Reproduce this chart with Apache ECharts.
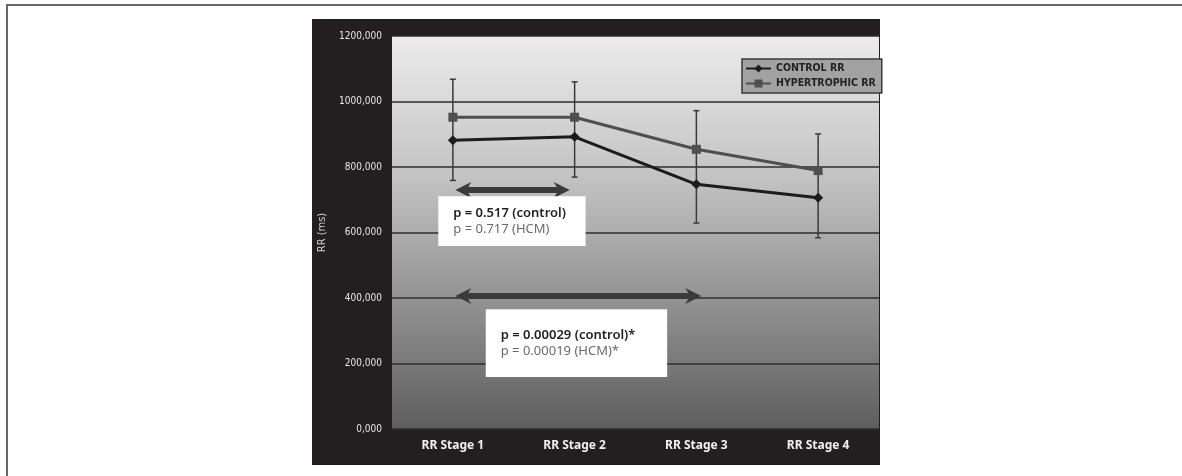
<!DOCTYPE html>
<html>
<head>
<meta charset="utf-8">
<script src="https://cdn.jsdelivr.net/npm/echarts@6/dist/echarts.min.js"></script>
<style>
html,body{margin:0;padding:0;background:#fff;}
#c{width:1182px;height:476px;}
</style>
</head>
<body>
<div id="c"></div>
<script>
// ---- data ----
var categories = ['RR Stage 1', 'RR Stage 2', 'RR Stage 3', 'RR Stage 4'];
var controlRR = [882, 892, 747, 706];
var hypertrophicRR = [952, 952, 854, 789];
// error bar extents per stage: [low, high]
var errorLow = [759, 769, 629, 584];
var errorHigh = [1068, 1060, 972, 901];
var yTicks = [0, 200, 400, 600, 800, 1000, 1200];
// annotations (category-index / value coordinates)
var arrows = [
  {x0: 0.02, x1: 0.96, y: 730},
  {x0: 0.02, x1: 2.04, y: 406}
];
var notes = [
  {x0: -0.12, x1: 1.09, y0: 711, y1: 559, lines: ['p = 0.517 (control)', 'p = 0.717 (HCM)']},
  {x0: 0.27, x1: 1.76, y0: 366, y1: 159, lines: ['p = 0.00029 (control)*', 'p = 0.00019 (HCM)*']}
];

var NARROW = '"DejaVu Sans Condensed", "Liberation Sans Narrow", "Roboto Condensed", "Noto Sans", sans-serif';

function px(api, xi, y) {
  var a = api.coord([0, y]);
  var b = api.coord([1, y]);
  return [a[0] + (b[0] - a[0]) * xi, a[1]];
}

var chart = echarts.init(document.getElementById('c'), null, {renderer: 'canvas'});
var option = {
  backgroundColor: '#ffffff',
  animation: false,
  graphic: [
    {type: 'line', shape: {x1: 6, y1: 5, x2: 1182, y2: 5}, style: {stroke: '#666', lineWidth: 2}, z: -10},
    {type: 'line', shape: {x1: 7, y1: 5, x2: 7, y2: 476}, style: {stroke: '#666', lineWidth: 2}, z: -10},
    {type: 'rect', shape: {x: 312, y: 19, width: 568, height: 446}, style: {fill: '#231f20'}, z: -10}
  ],
  grid: {
    left: 392, right: 303, top: 36, bottom: 47,
    show: true, borderWidth: 0,
    backgroundColor: new echarts.graphic.LinearGradient(0, 0, 0, 1, [
      {offset: 0, color: '#ececec'},
      {offset: 0.35, color: '#c4c4c4'},
      {offset: 0.7, color: '#8e8e8e'},
      {offset: 1, color: '#5e5e5e'}
    ])
  },
  legend: {
    orient: 'vertical',
    left: 742, top: 59,
    padding: [4, 6, 4, 3],
    itemGap: 4,
    itemWidth: 25, itemHeight: 10,
    backgroundColor: '#a2a2a2',
    borderColor: '#3a3a3a', borderWidth: 1.5,
    textStyle: {fontFamily: NARROW, fontWeight: 'bold', fontSize: 10.5, color: '#222'},
    data: ['CONTROL RR', 'HYPERTROPHIC RR']
  },
  xAxis: {
    type: 'category',
    data: categories,
    boundaryGap: true,
    axisLine: {show: false},
    axisTick: {show: false},
    axisLabel: {color: '#f0f0f0', fontFamily: 'Noto Sans', fontWeight: 'bold', fontSize: 12, margin: 11}
  },
  yAxis: {
    type: 'value',
    min: 0, max: 1200, interval: 200,
    name: 'RR (ms)',
    nameLocation: 'middle',
    nameGap: 64,
    nameRotate: 90,
    nameTextStyle: {color: '#cfcfcf', fontFamily: NARROW, fontSize: 11},
    axisLine: {show: false},
    axisTick: {show: false},
    splitLine: {lineStyle: {color: '#2e2e2e', width: 1.5}},
    axisLabel: {
      color: '#e6e6e6', fontFamily: NARROW, fontSize: 10, margin: 10,
      formatter: function (v) { return yTicks.indexOf(v) >= 0 ? v + ',000' : ''; }
    }
  },
  series: [
    {
      type: 'custom',
      name: 'errors',
      z: 2,
      data: categories.map(function (c, i) { return [i, errorLow[i], errorHigh[i]]; }),
      renderItem: function (params, api) {
        var lo = api.coord([api.value(0), api.value(1)]);
        var hi = api.coord([api.value(0), api.value(2)]);
        var s = {stroke: '#3a3a3a', lineWidth: 1.5};
        return {type: 'group', children: [
          {type: 'line', shape: {x1: lo[0], y1: lo[1], x2: hi[0], y2: hi[1]}, style: s},
          {type: 'line', shape: {x1: lo[0] - 3, y1: lo[1], x2: lo[0] + 3, y2: lo[1]}, style: s},
          {type: 'line', shape: {x1: hi[0] - 3, y1: hi[1], x2: hi[0] + 3, y2: hi[1]}, style: s}
        ]};
      }
    },
    {
      type: 'line', name: 'HYPERTROPHIC RR', data: hypertrophicRR, z: 3,
      color: '#4f4f4f',
      lineStyle: {color: '#4f4f4f', width: 3},
      symbol: 'rect', symbolSize: 9,
      itemStyle: {color: '#4f4f4f'}
    },
    {
      type: 'line', name: 'CONTROL RR', data: controlRR, z: 4,
      color: '#1c1c1c',
      lineStyle: {color: '#1c1c1c', width: 3},
      symbol: 'diamond', symbolSize: 10,
      itemStyle: {color: '#1c1c1c'}
    },
    {
      type: 'custom',
      name: 'arrows',
      z: 5,
      data: arrows.map(function (a, i) { return [i]; }),
      renderItem: function (params, api) {
        var a = arrows[params.dataIndex];
        var p0 = px(api, a.x0, a.y), p1 = px(api, a.x1, a.y);
        var y = p0[1], h = 3, hh = 8, hl = 16;
        var pts = [
          [p0[0], y], [p0[0] + hl, y - hh], [p0[0] + hl - 3, y - h], [p1[0] - hl + 3, y - h],
          [p1[0] - hl, y - hh], [p1[0], y], [p1[0] - hl, y + hh], [p1[0] - hl + 3, y + h],
          [p0[0] + hl - 3, y + h], [p0[0] + hl, y + hh]
        ];
        return {type: 'polygon', shape: {points: pts}, style: {fill: '#3b3b3b'}};
      }
    },
    {
      type: 'custom',
      name: 'notes',
      z: 6,
      data: notes.map(function (n, i) { return [i]; }),
      renderItem: function (params, api) {
        var n = notes[params.dataIndex];
        var a = px(api, n.x0, n.y0), b = px(api, n.x1, n.y1);
        var tx = a[0] + 15;
        var cy = (a[1] + b[1]) / 2;
        return {type: 'group', children: [
          {type: 'rect', shape: {x: a[0], y: a[1], width: b[0] - a[0], height: b[1] - a[1]}, style: {fill: '#ffffff'}},
          {type: 'text', style: {x: tx, y: cy - 8, text: n.lines[0], fill: '#222', font: '600 13px "Noto Sans"', verticalAlign: 'middle'}},
          {type: 'text', style: {x: tx, y: cy + 8, text: n.lines[1], fill: '#6a6a6a', font: '13px "Noto Sans"', verticalAlign: 'middle'}}
        ]};
      }
    }
  ]
};
chart.setOption(option);
</script>
</body>
</html>
